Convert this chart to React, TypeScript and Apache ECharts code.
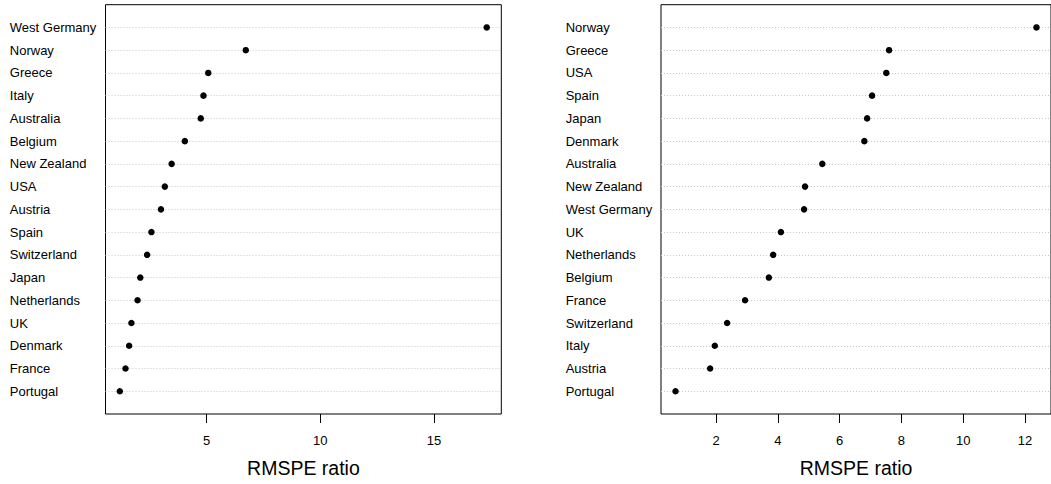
import React, { useEffect, useRef } from "react";
import * as echarts from "echarts";

const leftCountries = ["West Germany", "Norway", "Greece", "Italy", "Australia", "Belgium", "New Zealand", "USA", "Austria", "Spain", "Switzerland", "Japan", "Netherlands", "UK", "Denmark", "France", "Portugal"];
const leftValues = [17.32, 6.72, 5.07, 4.86, 4.74, 4.04, 3.46, 3.16, 2.99, 2.57, 2.38, 2.08, 1.96, 1.69, 1.59, 1.43, 1.18];
const rightCountries = ["Norway", "Greece", "USA", "Spain", "Japan", "Denmark", "Australia", "New Zealand", "West Germany", "UK", "Netherlands", "Belgium", "France", "Switzerland", "Italy", "Austria", "Portugal"];
const rightValues = [12.37, 7.6, 7.51, 7.05, 6.89, 6.8, 5.44, 4.88, 4.85, 4.1, 3.85, 3.71, 2.94, 2.36, 1.96, 1.81, 0.69];
const leftTicks = [5, 10, 15];
const rightTicks = [2, 4, 6, 8, 10, 12];
const axisTitle = "RMSPE ratio";

const FONT = "'Liberation Sans', Arial, sans-serif";

function rowY(countries: string[], i: number) {
  return countries.length - i;
}

function xAxisFor(gridIndex: number, min: number, max: number, ticks: number[]) {
  return {
    type: "value",
    gridIndex,
    min,
    max,
    axisLine: { show: false },
    splitLine: { show: false },
    axisTick: { show: true, customValues: ticks, length: 9, inside: false, lineStyle: { color: "#000", width: 1 } },
    axisLabel: { show: true, customValues: ticks, margin: 20, fontSize: 13, color: "#000", fontFamily: FONT },
    name: axisTitle,
    nameLocation: "middle",
    nameGap: 44,
    nameTextStyle: { fontSize: 19.5, color: "#000", fontFamily: FONT },
  };
}

function yAxisFor(gridIndex: number, countries: string[], margin: number) {
  const n = countries.length;
  return {
    type: "value",
    gridIndex,
    min: 0,
    max: n + 1,
    interval: 1,
    axisLine: { show: false },
    axisTick: { show: false },
    splitLine: { show: false },
    axisLabel: {
      show: true,
      align: "left",
      margin,
      fontSize: 13,
      color: "#000",
      fontFamily: FONT,
      formatter: (v: number) => {
        const idx = n - Math.round(v);
        return idx >= 0 && idx < n ? countries[idx] : "";
      },
    },
  };
}

function seriesFor(index: number, countries: string[], values: number[]) {
  const pts = values.map((v, i) => [v, rowY(countries, i)]);
  return [
    {
      type: "scatter",
      xAxisIndex: index,
      yAxisIndex: index,
      data: [],
      z: 1,
      silent: true,
      markLine: {
        silent: true,
        symbol: "none",
        label: { show: false },
        lineStyle: { color: "#c8c8c8", type: [1, 2], width: 1 },
        data: countries.map((_, i) => ({ yAxis: rowY(countries, i) })),
      },
    },
    {
      type: "scatter",
      xAxisIndex: index,
      yAxisIndex: index,
      data: pts,
      symbol: "circle",
      symbolSize: 6.5,
      itemStyle: { color: "#000", opacity: 1 },
      z: 5,
      silent: true,
    },
  ];
}

export default function App() {
  const ref = useRef<HTMLDivElement>(null);
  useEffect(() => {
    if (!ref.current) return;
    const chart = echarts.init(ref.current, undefined, { renderer: "svg" });
    chart.setOption({
      animation: false,
      backgroundColor: "#fff",
      textStyle: { fontFamily: FONT },
      grid: [
        { left: 105.5, right: 549.7, top: 4.7, bottom: 70, show: true, borderColor: "#000", borderWidth: 1, backgroundColor: "transparent" },
        { left: 661, right: -6, top: 4.7, bottom: 70, show: true, borderColor: "#000", borderWidth: 1, backgroundColor: "transparent" },
      ],
      xAxis: [xAxisFor(0, 0.55, 17.96, leftTicks), xAxisFor(1, 0.22, 12.84, rightTicks)],
      yAxis: [yAxisFor(0, leftCountries, 95.7), yAxisFor(1, rightCountries, 95.3)],
      series: [...seriesFor(0, leftCountries, leftValues), ...seriesFor(1, rightCountries, rightValues)],
    });
    return () => chart.dispose();
  }, []);
  return <div ref={ref} style={{ position: "fixed", left: 0, top: 0, width: 1051, height: 484 }} />;
}
